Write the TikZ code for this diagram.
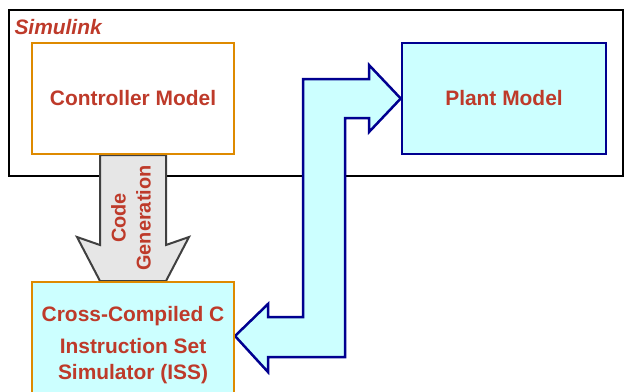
\documentclass[tikz,border=0pt]{standalone}
\usepackage{fontspec}
\setmainfont{Liberation Sans}
\usetikzlibrary{backgrounds,calc}
\definecolor{txtred}{HTML}{BE3A2A}
\definecolor{boxorange}{HTML}{DE8A00}
\definecolor{lightcyan}{HTML}{CCFFFF}
\definecolor{navyline}{HTML}{000090}
\definecolor{arrowgray}{HTML}{E6E6E6}
\definecolor{arrowedge}{HTML}{404040}
\begin{document}
\begin{tikzpicture}[x=1bp,y=-1bp,line join=miter,
  lbl/.style={font=\bfseries\fontsize{21}{26}\selectfont,text=txtred},
  ctrlbox/.style={draw=boxorange,line width=2bp,fill=white,inner sep=0pt},
  issbox/.style={draw=boxorange,line width=2bp,fill=lightcyan,inner sep=0pt},
  plantbox/.style={draw=navyline,line width=2.5bp,fill=lightcyan,inner sep=0pt},
  cyanarrow/.style={draw=navyline,line width=2.5bp,fill=lightcyan},
  grayarrow/.style={draw=arrowedge,line width=2bp,fill=arrowgray}]
\useasboundingbox (0,0) rectangle (625,391);
\clip (0,0) rectangle (625,391);
% nodes
\node[ctrlbox,lbl,minimum width=202bp,minimum height=111bp] (ctrl) at (133,98.5) {Controller Model};
\node[plantbox,lbl,minimum width=204bp,minimum height=111bp] (plant) at (504,98.5) {Plant Model};
\node[issbox,lbl,align=center,minimum width=202bp,minimum height=126bp] (iss) at (133,345)
  {Cross-Compiled C\\[6bp]Instruction Set\\Simulator (ISS)};
\node[lbl,font=\bfseries\fontsize{20}{25}\selectfont,rotate=90,align=center] (cg) at (131,218) {Code\\Generation};
\node[lbl,font=\bfseries\itshape\fontsize{21}{25}\selectfont,anchor=base west] (sim) at (11,34) {Simulink};
\begin{scope}[on background layer]
  \draw[line width=2.5bp] (9,10) rectangle (623,176);
  \draw[grayarrow] (ctrl.south -| 100,0) -- (100,245) -- (77,237) -- (iss.north -| 100,0)
     -- (iss.north -| 166,0) -- (189,237) -- (166,245) -- (ctrl.south -| 166,0) -- cycle;
  \draw[cyanarrow] (303,79) -- (369,79) -- (369,65) -- (plant.west) -- (369,132) -- (369,118)
     -- (345,118) -- (345,357) -- (268,357) -- (268,372) -- ($(iss.north east)+(0,55)$)
     -- (268,304) -- (268,317) -- (303,317) -- cycle;
\end{scope}
\end{tikzpicture}
\end{document}
